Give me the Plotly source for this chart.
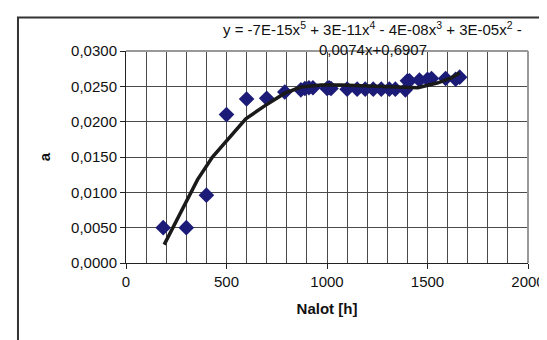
import plotly.graph_objects as go

# measured data points (Nalot [h], a)
nalot = [185, 300, 400, 500, 600, 700, 790, 870, 890, 910, 930, 1000, 1010, 1020,
         1100, 1150, 1190, 1230, 1270, 1310, 1340, 1390, 1400, 1410, 1460, 1500,
         1520, 1590, 1640, 1660]
a_vals = [0.0050, 0.0050, 0.0096, 0.0210, 0.0232, 0.0233, 0.0242, 0.0245, 0.0247,
          0.0248, 0.0248, 0.0247, 0.0248, 0.0247, 0.0246, 0.0246, 0.0246, 0.0246,
          0.0246, 0.0246, 0.0246, 0.0245, 0.0258, 0.0258, 0.0259, 0.0260, 0.0261,
          0.0261, 0.0260, 0.0263]

# trend line
trend_x = [190, 306, 356, 430, 470, 505, 550, 596, 688, 754, 788, 870, 970, 1070,
           1169, 1203, 1300, 1369, 1452, 1552, 1618, 1660]
trend_y = [0.0026, 0.0092, 0.0118, 0.0150, 0.0163, 0.0174, 0.0190, 0.0204, 0.0222,
           0.0233, 0.0240, 0.0249, 0.0252, 0.0252, 0.0251, 0.0250, 0.0249, 0.0249,
           0.0248, 0.0255, 0.0262, 0.0269]

x_ticks = [0, 500, 1000, 1500, 2000]
y_ticks = [0.0, 0.005, 0.010, 0.015, 0.020, 0.025, 0.030]

equation_line1 = "y = -7E-15x<sup>5</sup> + 3E-11x<sup>4</sup> - 4E-08x<sup>3</sup> + 3E-05x<sup>2</sup> -"
equation_line2 = "0,0074x+0,6907"

font = "Liberation Sans, Arial, sans-serif"

fig = go.Figure()
fig.add_trace(go.Scatter(
    x=nalot, y=a_vals, mode="markers",
    marker=dict(symbol="diamond", size=12, color="#1c1c78"),
    showlegend=False))
fig.add_trace(go.Scatter(
    x=trend_x, y=trend_y, mode="lines",
    line=dict(color="#1a1a1a", width=3.5),
    showlegend=False))

grid = "#4a4a4a"
fig.update_layout(
    width=547, height=340,
    margin=dict(l=118, r=27, t=43, b=85, autoexpand=False),
    paper_bgcolor="white", plot_bgcolor="white",
    separators=", ",
    font=dict(family=font, size=15, color="#111111"),
    xaxis=dict(range=[0, 2000], tickvals=x_ticks, ticktext=[str(v) for v in x_ticks],
               automargin=False,
               showgrid=True, gridcolor=grid, gridwidth=1,
               minor=dict(dtick=100, showgrid=True, gridcolor=grid, gridwidth=1),
               showline=True, linecolor="#222", linewidth=1,
               ticks="outside", ticklen=5, tickcolor="#222",
               zeroline=False,
               title=dict(text="<b>Nalot [h]</b>", font=dict(size=15), standoff=14)),
    yaxis=dict(range=[0, 0.030], tickvals=y_ticks, tickformat=".4f",
               automargin=False,
               showgrid=True, gridcolor=grid, gridwidth=1,
               showline=True, linecolor="#222", linewidth=1,
               ticks="outside", ticklen=5, tickcolor="#222",
               zeroline=False,
               title=dict(text="<b>a</b>", font=dict(size=15), standoff=16)),
    shapes=[
        dict(type="line", xref="paper", yref="paper", x0=1, x1=1, y0=0, y1=1,
             line=dict(color="#999999", width=2)),
        dict(type="line", xref="paper", yref="paper", x0=0, x1=1, y0=1, y1=1,
             line=dict(color="#999999", width=2)),
        dict(type="rect", xref="paper", yref="paper",
             x0=-0.2687, x1=1.3, y0=-0.5, y1=1.158,
             line=dict(color="#333333", width=2), layer="below"),
    ],
    annotations=[
        dict(text=equation_line1, xref="paper", yref="paper", x=0.612, y=1.108,
             showarrow=False, xanchor="center", yanchor="middle", font=dict(size=15)),
        dict(text=equation_line2, xref="paper", yref="paper", x=0.614, y=1.005,
             showarrow=False, xanchor="center", yanchor="middle", font=dict(size=15)),
    ],
)

fig.write_html("out.html")
